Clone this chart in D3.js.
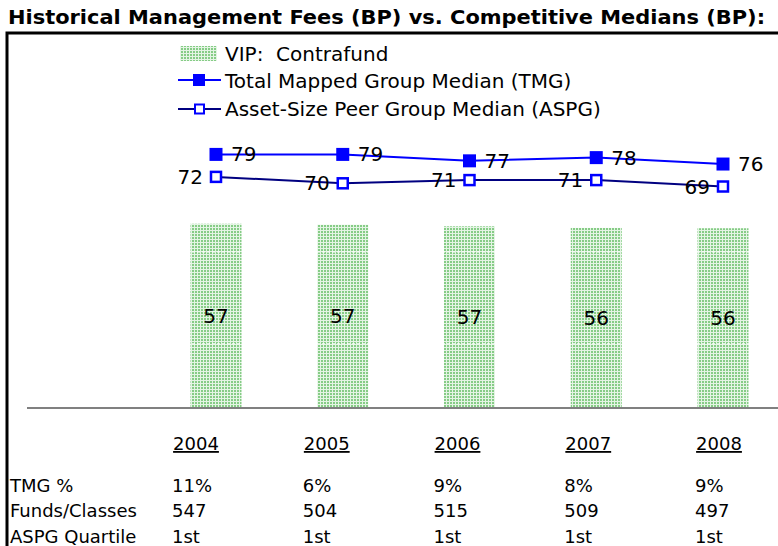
<!DOCTYPE html>
<html>
<head>
<meta charset="utf-8">
<script src="https://cdn.jsdelivr.net/npm/d3@7"></script>
<style>
  body { margin: 0; background: #fff; }
  svg { display: block; font-family: "DejaVu Sans", Verdana, sans-serif; }
</style>
</head>
<body>
<svg id="chart" width="778" height="546"></svg>
<script>
// data
const years = ["2004", "2005", "2006", "2007", "2008"];
const vipFees = [57.4, 57.1, 56.6, 56.1, 56.0];
const tmgMedian = [79, 79, 77, 78, 76];
const aspgMedian = [72, 70, 71, 71, 69];
const gridValues = [20, 48.6];

const rowLabels = ["TMG %", "Funds/Classes", "ASPG Quartile"];
const tmgPct = ["11%", "6%", "9%", "8%", "9%"];
const fundsClasses = ["547", "504", "515", "509", "497"];
const aspgQuartile = ["1st", "1st", "1st", "1st", "1st"];

const svg = d3.select("#chart");
const W = 778, H = 546;

// pattern for the bars
const defs = svg.append("defs");
const pat = defs.append("pattern")
    .attr("id", "dots")
    .attr("width", 3).attr("height", 3)
    .attr("patternUnits", "userSpaceOnUse");
pat.append("rect").attr("width", 3).attr("height", 3).attr("fill", "#e4f4e4");
pat.append("rect").attr("width", 2).attr("height", 2).attr("fill", "#86cc86");

// title + frame
svg.append("text")
    .attr("x", 8).attr("y", 24)
    .style("font-weight", "bold")
    .style("font-size", "19px")
    .attr("textLength", 757)
    .attr("lengthAdjust", "spacingAndGlyphs")
    .text("Historical Management Fees (BP) vs. Competitive Medians (BP):");

svg.append("path")
    .attr("d", `M7,${H} L7,33 L${W},33`)
    .attr("fill", "none")
    .attr("stroke", "#000")
    .attr("stroke-width", 3);

// scales
const x = d3.scalePoint().domain(years).range([216, 723]);
const y = d3.scaleLinear().domain([0, 100]).range([408, 87]);
const barW = 51;
const fmt = d3.format(".0f");

// bars
const g = svg.append("g");
g.selectAll("rect.bar")
    .data(years)
    .join("rect")
    .attr("class", "bar")
    .attr("x", d => x(d) - barW / 2)
    .attr("y", (d, i) => y(vipFees[i]))
    .attr("width", barW)
    .attr("height", (d, i) => y(0) - y(vipFees[i]))
    .attr("fill", "url(#dots)");

// white gridlines only show over the bars
g.selectAll("line.grid")
    .data(gridValues)
    .join("line")
    .attr("class", "grid")
    .attr("x1", 27).attr("x2", W)
    .attr("y1", d => y(d)).attr("y2", d => y(d))
    .attr("stroke", "#fff")
    .attr("stroke-width", 1)
    .attr("stroke-dasharray", "3,2");

g.selectAll("text.barLabel")
    .data(years)
    .join("text")
    .attr("class", "barLabel")
    .attr("x", d => x(d))
    .attr("y", (d, i) => (y(vipFees[i]) + y(0)) / 2)
    .attr("text-anchor", "middle")
    .attr("dominant-baseline", "central")
    .style("font-size", "20px")
    .text((d, i) => fmt(vipFees[i]));

// baseline
g.append("line")
    .attr("x1", 27).attr("x2", W)
    .attr("y1", y(0)).attr("y2", y(0))
    .attr("stroke", "#808080")
    .attr("stroke-width", 2);

// lines
const line = d3.line().x((d, i) => x(years[i])).y(d => y(d));

g.append("path")
    .datum(aspgMedian)
    .attr("d", line)
    .attr("fill", "none")
    .attr("stroke", "#000080")
    .attr("stroke-width", 2);

g.append("path")
    .datum(tmgMedian)
    .attr("d", line)
    .attr("fill", "none")
    .attr("stroke", "#0000ff")
    .attr("stroke-width", 2);

g.selectAll("rect.tmg")
    .data(tmgMedian)
    .join("rect")
    .attr("class", "tmg")
    .attr("x", (d, i) => x(years[i]) - 6.5)
    .attr("y", d => y(d) - 6.5)
    .attr("width", 13).attr("height", 13)
    .attr("fill", "#0000ff");

g.selectAll("rect.aspg")
    .data(aspgMedian)
    .join("rect")
    .attr("class", "aspg")
    .attr("x", (d, i) => x(years[i]) - 5)
    .attr("y", d => y(d) - 5)
    .attr("width", 10).attr("height", 10)
    .attr("fill", "#fff")
    .attr("stroke", "#0000ff")
    .attr("stroke-width", 2.5);

g.selectAll("text.tmgLabel")
    .data(tmgMedian)
    .join("text")
    .attr("class", "tmgLabel")
    .attr("x", (d, i) => x(years[i]) + 15)
    .attr("y", d => y(d))
    .attr("dominant-baseline", "central")
    .style("font-size", "20px")
    .text(d => d);

g.selectAll("text.aspgLabel")
    .data(aspgMedian)
    .join("text")
    .attr("class", "aspgLabel")
    .attr("x", (d, i) => x(years[i]) - 13)
    .attr("y", d => y(d))
    .attr("text-anchor", "end")
    .attr("dominant-baseline", "central")
    .style("font-size", "20px")
    .text(d => d);

// legend
const legend = svg.append("g").attr("transform", "translate(178,0)")
    .style("font-size", "20px");
legend.append("rect")
    .attr("x", 2).attr("y", 46).attr("width", 37).attr("height", 15)
    .attr("fill", "url(#dots)");
legend.append("text").attr("x", 47).attr("y", 54)
    .attr("dominant-baseline", "central")
    .attr("xml:space", "preserve")
    .text("VIP:  Contrafund");

legend.append("line").attr("x1", 0).attr("x2", 43).attr("y1", 80).attr("y2", 80)
    .attr("stroke", "#0000ff").attr("stroke-width", 2);
legend.append("rect").attr("x", 15).attr("y", 74).attr("width", 12).attr("height", 12)
    .attr("fill", "#0000ff");
legend.append("text").attr("x", 47).attr("y", 81)
    .attr("dominant-baseline", "central")
    .text("Total Mapped Group Median (TMG)");

legend.append("line").attr("x1", 0).attr("x2", 43).attr("y1", 109).attr("y2", 109)
    .attr("stroke", "#000080").attr("stroke-width", 2);
legend.append("rect").attr("x", 17).attr("y", 104.5).attr("width", 9).attr("height", 9)
    .attr("fill", "#fff").attr("stroke", "#0000ff").attr("stroke-width", 2);
legend.append("text").attr("x", 47).attr("y", 109)
    .attr("dominant-baseline", "central")
    .text("Asset-Size Peer Group Median (ASPG)");

// table below the chart
const tx = d3.scalePoint().domain(years).range([196, 719]);
const table = svg.append("g").style("font-size", "18px");

table.selectAll("text.year")
    .data(years)
    .join("text")
    .attr("class", "year")
    .attr("x", d => tx(d))
    .attr("y", 450)
    .attr("text-anchor", "middle")
    .style("text-decoration", "underline")
    .text(d => d);

const rows = [tmgPct, fundsClasses, aspgQuartile];
const rowY = [492, 517, 543];
rows.forEach((vals, r) => {
    table.append("text")
        .attr("x", 10).attr("y", rowY[r])
        .text(rowLabels[r]);
    table.selectAll("text.r" + r)
        .data(vals)
        .join("text")
        .attr("class", "r" + r)
        .attr("x", (d, i) => tx(years[i]) - 24)
        .attr("y", rowY[r])
        .text(d => d);
});
</script>
</body>
</html>
